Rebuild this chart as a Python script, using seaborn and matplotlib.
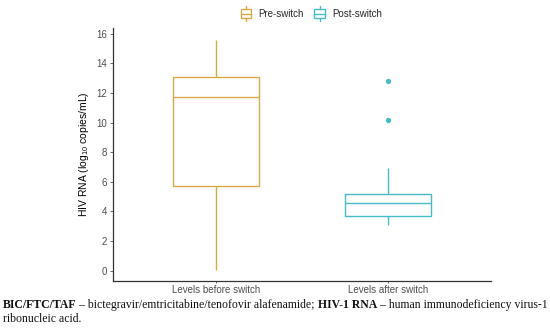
import numpy as np
import pandas as pd
import matplotlib
matplotlib.use('Agg')
import matplotlib.pyplot as plt
import matplotlib.patches as mpatches
from matplotlib.legend_handler import HandlerBase
from matplotlib.lines import Line2D
import seaborn as sns

# values (log10 copies/mL)
pre_switch = [0.07, 5.74, 11.75, 13.1, 15.6]
post_switch = [3.05, 3.3, 3.5, 3.68, 4.0, 4.3, 4.54, 4.8, 5.0, 5.15, 6.92, 10.2, 12.8]
categories = ['Levels before switch', 'Levels after switch']
legend_labels = ['Pre-switch', 'Post-switch']
colors = ['#D6AA45', '#45BCC8']

df = pd.DataFrame({
    'level': [categories[0]] * len(pre_switch) + [categories[1]] * len(post_switch),
    'rna': pre_switch + post_switch,
})

sns.set_style('white')
plt.rcParams['font.family'] = ['Liberation Sans', 'DejaVu Sans']
plt.rcParams['mathtext.fontset'] = 'custom'
plt.rcParams['mathtext.rm'] = 'Liberation Sans'
plt.rcParams['mathtext.it'] = 'Liberation Sans:italic'

fig = plt.figure(figsize=(5.5, 3.35), dpi=100)
ax = fig.add_axes([0.205, 0.161, 0.688, 0.755])

sns.boxplot(data=df, x='level', y='rna', hue='level', palette=colors, fill=False,
            width=0.5, linewidth=1.0, showcaps=False, legend=False, ax=ax,
            flierprops=dict(marker='o', markersize=2.8, markerfacecolor=colors[1],
                            markeredgecolor=colors[1]))

ax.set_xlim(-0.6, 1.6)
ax.set_ylim(-0.71, 16.38)
ax.set_yticks(range(0, 17, 2))
ax.set_xlabel('')
ax.set_ylabel('HIV RNA (log$_{10}$ copies/mL)', fontsize=7.5, color='black', labelpad=4)
ax.tick_params(axis='both', labelsize=7, colors='#4D4D4D', length=2.5, width=0.6,
               direction='out', pad=1.5, left=True, bottom=True)
ax.tick_params(axis='x', pad=1.5, length=1.5)
for side in ['top', 'right']:
    ax.spines[side].set_visible(False)
for side in ['left', 'bottom']:
    ax.spines[side].set_color('#333333')
    ax.spines[side].set_linewidth(0.9)


# legend key drawn like a little boxplot
class BoxKey(HandlerBase):
    def create_artists(self, legend, orig_handle, xdescent, ydescent, width, height, fontsize, trans):
        c = orig_handle.get_edgecolor()
        cx = width / 2 - xdescent
        bw = width * 0.85
        y0 = -ydescent
        box = mpatches.Rectangle((cx - bw / 2, y0 + height * 0.2), bw, height * 0.6,
                                 facecolor='white', edgecolor=c, linewidth=1.0, transform=trans)
        med = Line2D([cx - bw / 2, cx + bw / 2], [y0 + height / 2] * 2, color=c, lw=1.0, transform=trans)
        wt = Line2D([cx, cx], [y0 + height * 0.8, y0 + height * 1.0], color=c, lw=1.0, transform=trans)
        wb = Line2D([cx, cx], [y0, y0 + height * 0.2], color=c, lw=1.0, transform=trans)
        return [box, med, wt, wb]


handles = [mpatches.Patch(facecolor='white', edgecolor=c) for c in colors]
fig.legend(handles, legend_labels, loc='upper center', bbox_to_anchor=(0.565, 1.008), ncol=2,
           frameon=False, fontsize=7, handler_map={mpatches.Patch: BoxKey()},
           handlelength=1.3, handleheight=2.0, columnspacing=1.0, handletextpad=0.6)

# caption below the chart, bold and regular pieces
caption_line1 = [('BIC/FTC/TAF', 'bold'),
                 (' \u2013 bictegravir/emtricitabine/tenofovir alafenamide; ', 'normal'),
                 ('HIV-1 RNA', 'bold'),
                 (' \u2013 human immunodeficiency virus-1', 'normal')]
caption_line2 = 'ribonucleic acid.'

fig.canvas.draw()
renderer = fig.canvas.get_renderer()
x = 3 / 550
y = 1 - 308 / 335
for txt, weight in caption_line1:
    t = fig.text(x, y, txt, fontsize=8.5, family='Liberation Serif', weight=weight,
                 color='#111111', va='baseline', ha='left')
    bb = t.get_window_extent(renderer=renderer)
    x += bb.width / fig.bbox.width
fig.text(3 / 550, 1 - 322 / 335, caption_line2, fontsize=8.5, family='Liberation Serif',
         color='#111111', va='baseline', ha='left')

fig.savefig('out.png', dpi=100)
